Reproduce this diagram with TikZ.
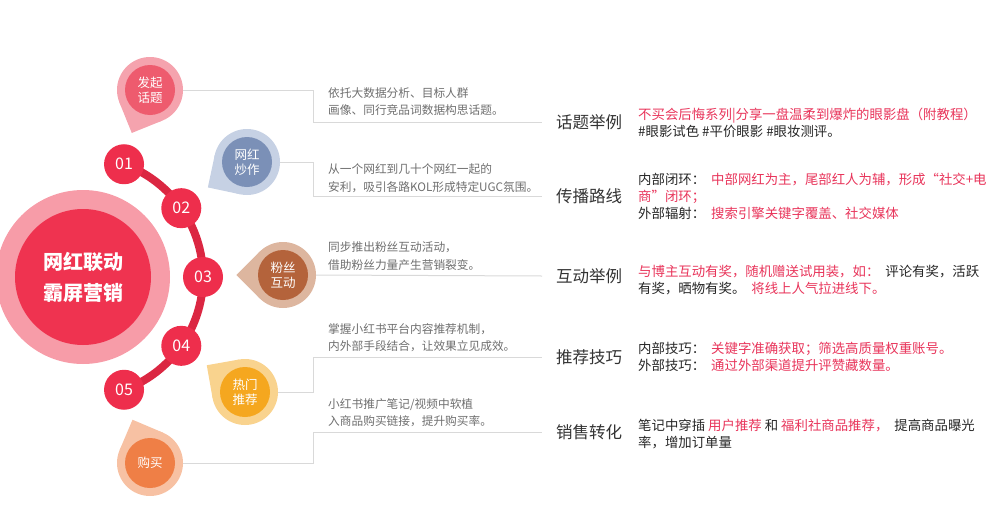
\documentclass[tikz,border=0pt]{standalone}
\usepackage{fontspec}
\setmainfont{Noto Sans CJK SC}
\usetikzlibrary{backgrounds}

\definecolor{hubred}{HTML}{EF3350}
\definecolor{hubpink}{HTML}{F79CA8}
\definecolor{spinered}{HTML}{DB2742}
\definecolor{dotred}{HTML}{EE2E4C}
\definecolor{hotred}{HTML}{E8345A}
\definecolor{linegray}{HTML}{D9D9D9}
\definecolor{descgray}{HTML}{6E6E6E}
\definecolor{headgray}{HTML}{333333}
\definecolor{pinApale}{HTML}{F5A3AE}
\definecolor{pinA}{HTML}{EE5B6E}
\definecolor{pinBpale}{HTML}{C6D1E4}
\definecolor{pinB}{HTML}{7B90B7}
\definecolor{pinCpale}{HTML}{DDB69F}
\definecolor{pinC}{HTML}{B4633B}
\definecolor{pinDpale}{HTML}{F9D38E}
\definecolor{pinD}{HTML}{F5A71F}
\definecolor{pinEpale}{HTML}{F7C1A3}
\definecolor{pinE}{HTML}{EF7F46}

\begin{document}
\begin{tikzpicture}[
    x=1pt, y=1pt,
    numdot/.style={
        circle,
        fill=dotred,
        text=white,
        minimum size=40pt,
        inner sep=0pt,
        font=\fontsize{16}{16}\selectfont
    },
    spine/.style={draw=spinered, line width=8pt},
    ring/.style={circle, minimum size=66pt, inner sep=0pt},
    pintext/.style={
        circle,
        minimum size=50pt,
        inner sep=0pt,
        text=white,
        align=center,
        font=\fontsize{12.5}{15}\selectfont
    },
    link/.style={draw=linegray, line width=1pt},
    desc/.style={anchor=west, align=left, inner sep=0pt, text=descgray, font=\fontsize{11.7}{17.5}\selectfont},
    heading/.style={anchor=west, inner sep=0pt, text=headgray, font=\fontsize{16.5}{18}\selectfont},
    detail/.style={anchor=west, align=left, inner sep=0pt, text=black!85, font=\fontsize{13.4}{17}\selectfont}
]
\useasboundingbox (0,0) rectangle (1000,-514);

\node[circle, fill=hubpink, minimum size=174pt] (hubring) at (83,-277) {};
\node[circle, fill=hubred, minimum size=136pt, text=white, align=center,
      font=\fontsize{20}{31}\selectfont\bfseries] (hub) at (hubring) {网红联动\\霸屏营销};

\foreach \a/\t [count=\i] in {70/01, 35/02, 0/03, -35/04, -70/05}
    \node[numdot] (n\i) at ([shift={(\a:120)}]hub.center) {\t};
\begin{scope}[on background layer]
\draw[spine] (n1.center) arc[start angle=70, end angle=-70, radius=120];
\end{scope}

\foreach \x/\y/\a/\outer/\inner/\txt [count=\i] in {
    150/90/247/pinApale/pinA/{发起\\话题},
    247/162/213/pinBpale/pinB/{网红\\炒作},
    283/275/180/pinCpale/pinC/{粉丝\\互动},
    245/392/145/pinDpale/pinD/{热门\\推荐},
    150/463/112/pinEpale/pinE/{购买}} {
    \node[ring, fill=\outer] (ring\i) at (\x,-\y) {};
    \fill[\outer] (ring\i.center) -- ++(\a-45:33) -- ++(\a+45:33) -- ++(\a+135:33) -- cycle;
    \node[pintext, fill=\inner] (pin\i) at (ring\i) {\txt};
}

\node[heading] (head1) at (556,-122) {话题举例};
\node[heading] (head2) at (556,-196) {传播路线};
\node[heading] (head3) at (556,-276) {互动举例};
\node[heading] (head4) at (556,-357) {推荐技巧};
\node[heading] (head5) at (556,-432) {销售转化};

\node[desc] (desc1) at (328,-101.5) {依托大数据分析、目标人群\\画像、同行竞品词数据构思话题。};
\node[desc] (desc2) at (328,-178) {从一个网红到几十个网红一起的\\安利，吸引各路KOL形成特定UGC氛围。};
\node[desc] (desc3) at (328,-256) {同步推出粉丝互动活动，\\借助粉丝力量产生营销裂变。};
\node[desc] (desc4) at (328,-337.5) {掌握小红书平台内容推荐机制，\\内外部手段结合，让效果立见成效。};
\node[desc] (desc5) at (328,-412.5) {小红书推广笔记/视频中软植\\入商品购买链接，提升购买率。};

\node[detail] (info1) at (638,-122.5) {\textcolor{hotred}{不买会后悔系列|分享一盘温柔到爆炸的眼影盘（附教程）}\\\#眼影试色 \#平价眼影 \#眼妆测评。};
\node[detail] (info2) at (638,-196) {内部闭环：\hspace{6pt}\textcolor{hotred}{中部网红为主，尾部红人为辅，形成“社交+电}\\\textcolor{hotred}{商”闭环；}\\外部辐射：\hspace{6pt}\textcolor{hotred}{搜索引擎关键字覆盖、社交媒体}};
\node[detail] (info3) at (638,-280.5) {\textcolor{hotred}{与博主互动有奖，随机赠送试用装，如：}\hspace{6pt}评论有奖，活跃\\有奖，晒物有奖。\hspace{6pt}\textcolor{hotred}{将线上人气拉进线下。}};
\node[detail] (info4) at (638,-356.5) {内部技巧：\hspace{6pt}\textcolor{hotred}{关键字准确获取；筛选高质量权重账号。}\\外部技巧：\hspace{6pt}\textcolor{hotred}{通过外部渠道提升评赞藏数量。}};
\node[detail] (info5) at (638,-434.5) {笔记中穿插 \textcolor{hotred}{用户推荐} 和 \textcolor{hotred}{福利社商品推荐，}\hspace{6pt}提高商品曝光\\率，增加订单量};

\coordinate (bend) at (313,0);
\draw[link] (ring1.east) -| (bend |- head1.west) -- ([xshift=-14pt]head1.west);
\draw[link] (ring2.east) -| (bend |- head2.west) -- ([xshift=-14pt]head2.west);
\draw[link] (ring3.east) -- ([xshift=-14pt]head3.west);
\draw[link] (ring4.east) -| (bend |- head4.west) -- ([xshift=-14pt]head4.west);
\draw[link] (ring5.east) -| (bend |- head5.west) -- ([xshift=-14pt]head5.west);
\end{tikzpicture}
\end{document}
